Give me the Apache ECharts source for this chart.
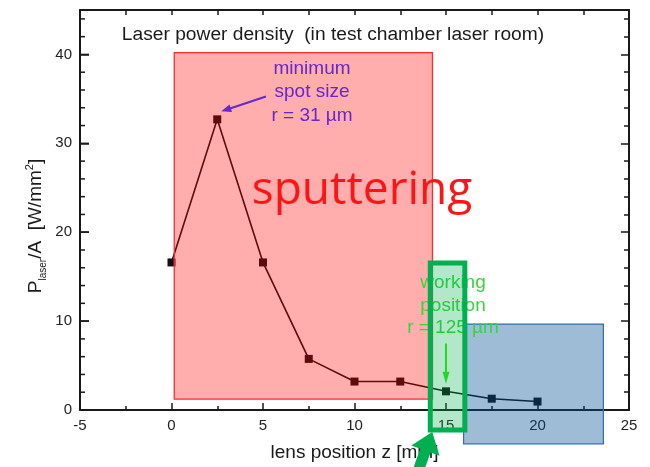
<!DOCTYPE html>
<html>
<head>
<meta charset="utf-8">
<script src="https://cdn.jsdelivr.net/npm/echarts@6/dist/echarts.min.js"></script>
<style>
  html, body { margin: 0; padding: 0; background: #ffffff; }
  #chart { width: 650px; height: 467px; }
</style>
</head>
<body>
<div id="chart"></div>
<script>
// Measured laser power density versus lens position
const lensPosition = [0, 2.5, 5, 7.5, 10, 12.5, 15, 17.5, 20];          // mm
const powerDensity = [16.6, 32.7, 16.6, 5.75, 3.2, 3.2, 2.1, 1.27, 0.95]; // W/mm^2

// Axis ranges and tick steps
const xRange = [-5, 25];
const yRange = [0, 45];
const xStep = 5;
const yStep = 10;
const yMinorStep = 2;

// Highlighted regions: [zStart, pStart, zEnd, pEnd] in data units
const sputterRegion = [0.15, 1.23, 14.26, 40.2];
const lowRegion = [15.96, -3.8, 23.6, 9.67];
const workRegion = [14.14, -2.24, 16.03, 16.54];

// Annotation arrows: [from, to] in data units
const spotArrow = [[5.16, 35.27], [2.72, 33.6]];
const workArrow = [[15, 7.47], [15, 2.95]];

// Text
const titleText = 'Laser power density  (in test chamber laser room)';
const spotText = 'minimum\nspot size\nr = 31 \u00b5m';
const workText = 'working\nposition\nr = 125 \u00b5m';
const sputterText = 'sputtering';
const xName = 'lens position z [mm]';

const FONT = '"Liberation Sans", Arial, sans-serif';
const AXIS_COLOR = '#1a1a1a';
const TICK_STYLE = { color: AXIS_COLOR, width: 1.5 };

// Tick values along the left frame edge (every minor step below the top)
const leftTickValues = [];
for (let v = yRange[0]; v < yRange[1]; v += yMinorStep) leftTickValues.push(v);

const chart = echarts.init(document.getElementById('chart'), null, { renderer: 'canvas' });

function regionSeries(region, style, z) {
  return {
    type: 'custom',
    xAxisIndex: 0,
    yAxisIndex: 0,
    z: z,
    silent: true,
    clip: false,
    data: [region],
    renderItem: function (params, api) {
      const p0 = api.coord([api.value(0), api.value(1)]);
      const p1 = api.coord([api.value(2), api.value(3)]);
      return {
        type: 'rect',
        shape: {
          x: p0[0],
          y: p1[1],
          width: p1[0] - p0[0],
          height: p0[1] - p1[1]
        },
        style: style
      };
    }
  };
}

// Every axis draws its line (they coincide on the frame) so that its ticks are rendered
function valueAxis(extra) {
  return Object.assign({
    type: 'value',
    axisLine: { show: true, onZero: false, lineStyle: { color: AXIS_COLOR, width: 2 } },
    splitLine: { show: false },
    axisLabel: { show: false },
    axisTick: { show: true, inside: true, length: 7, lineStyle: TICK_STYLE }
  }, extra);
}

const option = {
  animation: false,
  backgroundColor: '#ffffff',
  grid: { left: 80, right: 21, top: 10, bottom: 55, containLabel: false },
  xAxis: [
    valueAxis({
      position: 'bottom',
      min: xRange[0], max: xRange[1], interval: xStep,
      axisLabel: { show: true, margin: 8, fontFamily: FONT, fontSize: 15, color: '#222' },
      minorTick: { show: true, splitNumber: 2, length: 4, lineStyle: TICK_STYLE },
      name: xName,
      nameLocation: 'middle',
      nameGap: 33,
      nameTextStyle: { fontFamily: FONT, fontSize: 19, color: '#1a1a1a' }
    }),
    valueAxis({
      position: 'top',
      min: xRange[0], max: xRange[1], interval: xStep,
      axisTick: { show: true, inside: true, length: 5, lineStyle: TICK_STYLE },
      minorTick: { show: true, splitNumber: 2, length: 5, lineStyle: TICK_STYLE }
    })
  ],
  yAxis: [
    valueAxis({
      position: 'left',
      min: yRange[0], max: yRange[1], interval: yStep,
      axisTick: { show: true, inside: true, length: 9, lineStyle: TICK_STYLE },
      axisLabel: { show: true, margin: 8, fontFamily: FONT, fontSize: 15, color: '#222', showMaxLabel: false }
    }),
    valueAxis({
      position: 'right',
      min: yRange[0], max: yRange[1], interval: yStep,
      axisTick: { show: true, inside: true, length: 8, lineStyle: TICK_STYLE }
    }),
    valueAxis({
      position: 'right',
      min: yRange[0], max: yRange[1], interval: yMinorStep,
      axisTick: { show: true, inside: true, length: 5, lineStyle: TICK_STYLE }
    })
  ],
  series: [
    {
      type: 'line',
      xAxisIndex: 0,
      yAxisIndex: 0,
      z: 2,
      data: lensPosition.map(function (z, i) { return [z, powerDensity[i]]; }),
      symbol: 'rect',
      symbolSize: 8,
      showAllSymbol: true,
      lineStyle: { color: '#111111', width: 1.6 },
      itemStyle: { color: '#111111' }
    },
    // Inward tick marks on the left frame edge: long at major steps, short between
    {
      type: 'custom',
      xAxisIndex: 0,
      yAxisIndex: 0,
      z: 4,
      silent: true,
      clip: false,
      data: leftTickValues.map(function (v) { return [xRange[0], v]; }),
      renderItem: function (params, api) {
        const v = api.value(1);
        const p = api.coord([api.value(0), v]);
        const len = (v % yStep === 0) ? 9 : 5;
        return {
          type: 'line',
          shape: { x1: p[0], y1: p[1], x2: p[0] + len, y2: p[1] },
          style: { stroke: AXIS_COLOR, lineWidth: 1.5 }
        };
      }
    },
    regionSeries(sputterRegion, { fill: 'rgba(255,0,0,0.32)', stroke: '#ff2a2a', lineWidth: 1.3 }, 3),
    regionSeries(lowRegion, { fill: 'rgba(0,80,148,0.38)', stroke: '#2e6fb0', lineWidth: 1.2 }, 3),
    regionSeries(workRegion, { fill: 'rgba(0,176,80,0.30)', stroke: '#00b050', lineWidth: 5 }, 6)
  ]
};

chart.setOption(option);

function toPx(p) {
  return chart.convertToPixel({ xAxisIndex: 0, yAxisIndex: 0 }, p);
}

function arrowPolygon(from, to, shaftW, headL, headW) {
  const dx = to[0] - from[0], dy = to[1] - from[1];
  const len = Math.hypot(dx, dy);
  const ux = dx / len, uy = dy / len;
  const px = -uy, py = ux;
  const bx = to[0] - ux * headL, by = to[1] - uy * headL;
  const s = shaftW / 2, h = headW / 2;
  return [
    [from[0] + px * s, from[1] + py * s],
    [bx + px * s, by + py * s],
    [bx + px * h, by + py * h],
    [to[0], to[1]],
    [bx - px * h, by - py * h],
    [bx - px * s, by - py * s],
    [from[0] - px * s, from[1] - py * s]
  ];
}

// Big pointer to the lower-left corner of the working window
const corner = toPx([workRegion[0], workRegion[1]]);
const bigTip = [corner[0] + 2, corner[1] + 2];
const bigTail = [bigTip[0] - 16, bigTip[1] + 44];

const spotFrom = toPx(spotArrow[0]), spotTo = toPx(spotArrow[1]);
const workFrom = toPx(workArrow[0]), workTo = toPx(workArrow[1]);

chart.setOption({
  graphic: [
    {
      type: 'text', z: 10, x: 333, y: 35,
      style: { text: titleText, font: '19.2px ' + FONT, fill: '#1a1a1a', align: 'center', verticalAlign: 'middle' }
    },
    {
      type: 'text', z: 10, x: 362, y: 191,
      style: { text: sputterText, font: '46px "Open Sans", sans-serif', fill: '#ff1414', align: 'center', verticalAlign: 'middle' }
    },
    {
      type: 'text', z: 10, x: 312, y: 92,
      style: { text: spotText, font: '19px ' + FONT, fill: '#6428cc', align: 'center', verticalAlign: 'middle', lineHeight: 23.5 }
    },
    {
      type: 'polygon', z: 10,
      shape: { points: arrowPolygon(spotFrom, spotTo, 2, 10, 8) },
      style: { fill: '#6428cc' }
    },
    {
      type: 'text', z: 5, x: 453, y: 305.5,
      style: { text: workText, font: '19px ' + FONT, fill: '#3ad43a', align: 'center', verticalAlign: 'middle', lineHeight: 22.5 }
    },
    {
      type: 'polygon', z: 10,
      shape: { points: arrowPolygon(workFrom, workTo, 2, 12, 7) },
      style: { fill: '#22d822' }
    },
    {
      type: 'polygon', z: 10,
      shape: { points: arrowPolygon(bigTail, bigTip, 11, 20, 30) },
      style: { fill: '#00b050' }
    },
    {
      type: 'text', z: 10, x: 36, y: 226, rotation: Math.PI / 2,
      style: {
        text: '{m|P}{sub|laser}{m|/A  [W/mm}{sup|2}{m|]}',
        align: 'center',
        verticalAlign: 'middle',
        rich: {
          m: { font: '19px ' + FONT, fill: '#1a1a1a', lineHeight: 24 },
          sub: { font: '10px ' + FONT, fill: '#1a1a1a', lineHeight: 10, verticalAlign: 'bottom' },
          sup: { font: '11px ' + FONT, fill: '#1a1a1a', lineHeight: 11, verticalAlign: 'top' }
        }
      }
    }
  ]
});
</script>
</body>
</html>
